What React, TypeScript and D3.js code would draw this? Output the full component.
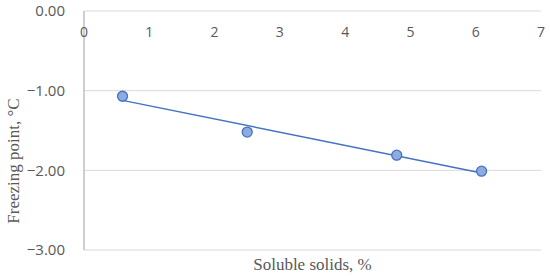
import React from "react";
import * as d3 from "d3";

const solubleSolids = [0.59, 2.5, 4.79, 6.09];
const freezingPoint = [-1.07, -1.52, -1.81, -2.01];
const xTicks = [0, 1, 2, 3, 4, 5, 6, 7];
const yTicks = [0, -1, -2, -3];

const W = 550;
const H = 276;
const M = { left: 84, right: 9, top: 11, bottom: 26 };

export default function App() {
  const x = d3.scaleLinear().domain([0, 7]).range([M.left, W - M.right]);
  const y = d3.scaleLinear().domain([-3, 0]).range([H - M.bottom, M.top]);

  const mx = d3.mean(solubleSolids)!;
  const my = d3.mean(freezingPoint)!;
  let sxy = 0, sxx = 0;
  solubleSolids.forEach((v, i) => {
    sxy += (v - mx) * (freezingPoint[i] - my);
    sxx += (v - mx) * (v - mx);
  });
  const slope = sxy / sxx;
  const intercept = my - slope * mx;
  const x0 = d3.min(solubleSolids)!;
  const x1 = d3.max(solubleSolids)!;
  const trend = d3.line<number>().x((d) => x(d)).y((d) => y(slope * d + intercept))([x0, x1]);

  const fmt = (v: number) => (v < 0 ? "\u2212" + Math.abs(v).toFixed(2) : v.toFixed(2));

  return (
    <svg width={W} height={H} style={{ position: "absolute", left: 0, top: 0 }}>
      <rect width={W} height={H} fill="#fff" />
      {yTicks.map((t) => (
        <line key={"g" + t} x1={x(0)} x2={x(7)} y1={y(t)} y2={y(t)} stroke="#d9d9d9" strokeWidth={1} />
      ))}
      <line x1={x(0)} x2={x(0)} y1={y(0)} y2={y(-3)} stroke="#bfbfbf" strokeWidth={1.5} />
      {yTicks.map((t) => (
        <text key={"y" + t} x={65} y={y(t)} dy="0.35em" textAnchor="end" fontFamily="Open Sans, sans-serif" fontSize={15} fill="#595959">
          {fmt(t)}
        </text>
      ))}
      {xTicks.map((t) => (
        <text key={"x" + t} x={x(t)} y={32} dy="0.35em" textAnchor="middle" fontFamily="Open Sans, sans-serif" fontSize={14} fill="#595959">
          {t}
        </text>
      ))}
      <path d={trend || ""} stroke="#4472c4" strokeWidth={1.5} fill="none" />
      {solubleSolids.map((v, i) => (
        <circle key={i} cx={x(v)} cy={y(freezingPoint[i])} r={5} fill="#8faadc" stroke="#4472c4" strokeWidth={1.3} />
      ))}
      <text x={(x(0) + x(7)) / 2} y={270} textAnchor="middle" fontFamily="Liberation Serif, serif" fontSize={17} fill="#595959">
        Soluble solids, %
      </text>
      <text transform={`translate(19,161) rotate(-90)`} textAnchor="middle" fontFamily="Liberation Serif, serif" fontSize={17} fill="#595959">
        Freezing point, °C
      </text>
    </svg>
  );
}
